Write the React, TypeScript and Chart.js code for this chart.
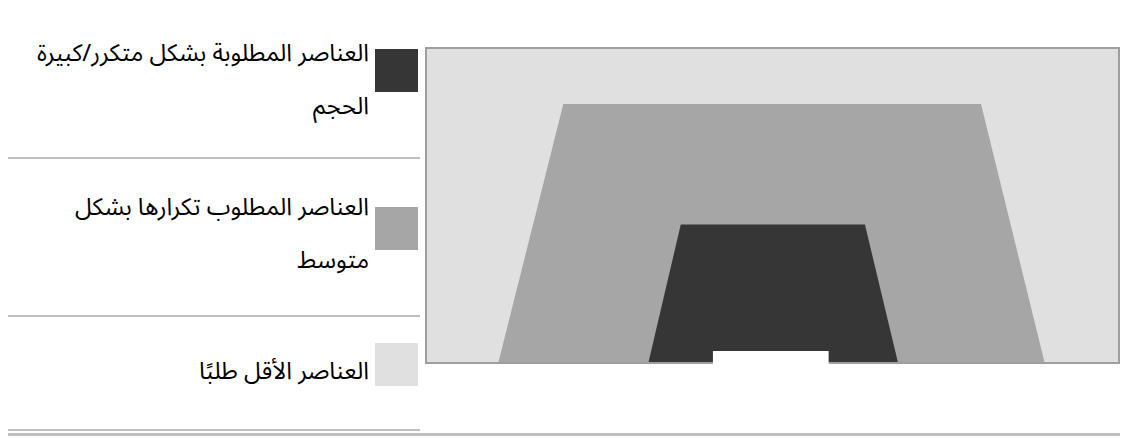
import React, { useEffect, useRef } from "react";
import { Chart, registerables } from "chart.js";

Chart.register(...registerables);

// Legend categories (each entry split into its display lines)
const categories: string[][] = [
  ["العناصر المطلوبة بشكل متكرر/كبيرة", "الحجم"],
  ["العناصر المطلوب تكرارها بشكل", "متوسط"],
  ["العناصر الأقل طلبًا"],
];
const colors = ["#363636", "#a6a6a6", "#e0e0e0"];

// Shapes (x in % of width, y in % of height)
const lightX = [0, 100];
const lightY = [100, 100];
const mediumX = [10.5, 19.9, 80, 89.2];
const mediumY = [0, 82, 82, 0];
const darkX = [32.1, 36.8, 63.3, 68.1];
const darkY = [0, 44, 44, 0];
const notchX = [41.4, 41.4, 58.1, 58.1];
const notchY = [0, 4.1, 4.1, 0];

const pts = (xs: number[], ys: number[]) => xs.map((x, i) => ({ x, y: ys[i] }));

const borderPlugin = {
  id: "boxBorder",
  afterDatasetDraw(chart: any, args: any) {
    if (args.meta.label !== "dark") return;
    const { ctx, chartArea } = chart;
    ctx.save();
    ctx.strokeStyle = "#9e9e9e";
    ctx.lineWidth = 2;
    ctx.strokeRect(chartArea.left + 1, chartArea.top + 1, chartArea.right - chartArea.left - 2, chartArea.bottom - chartArea.top - 2);
    ctx.restore();
  },
};

function Pyramid() {
  const ref = useRef<HTMLCanvasElement>(null);
  useEffect(() => {
    if (!ref.current) return;
    const mk = (label: string, data: any, color: string, order: number) => ({
      label,
      data,
      backgroundColor: color,
      borderWidth: 0,
      borderColor: color,
      pointRadius: 0,
      tension: 0,
      fill: "origin",
      order,
    });
    const chart = new Chart(ref.current, {
      type: "line",
      data: {
        datasets: [
          mk("light", pts(lightX, lightY), colors[2], 4),
          mk("medium", pts(mediumX, mediumY), colors[1], 3),
          mk("dark", pts(darkX, darkY), colors[0], 2),
          mk("notch", pts(notchX, notchY), "#ffffff", 1),
        ] as any,
      },
      options: {
        animation: false,
        responsive: true,
        maintainAspectRatio: false,
        layout: { padding: { left: 10, right: 5, top: 10, bottom: 10 } },
        plugins: { legend: { display: false }, tooltip: { enabled: false } },
        events: [],
        scales: {
          x: { type: "linear", min: 0, max: 100, display: false },
          y: { type: "linear", min: 0, max: 100, display: false },
        },
      },
      plugins: [borderPlugin],
    });
    return () => chart.destroy();
  }, []);
  return <canvas ref={ref} />;
}

export default function App() {
  const off = 8;
  const rows = [
    { swatchY: 49, textTop: 26.5, sepY: 157 },
    { swatchY: 207, textTop: 181, sepY: 315 },
    { swatchY: 343, textTop: 344.5, sepY: 429 },
  ];
  return (
    <div style={{ position: "relative", width: 1112, height: 428, fontFamily: "'Noto Sans Arabic', 'DejaVu Sans', sans-serif" }}>
      {categories.map((lines, i) => (
        <React.Fragment key={i}>
          <div
            style={{
              position: "absolute",
              right: 1112 - (369 - off),
              top: rows[i].textTop - off,
              direction: "rtl",
              textAlign: "right",
              fontSize: 24,
              lineHeight: "53px",
              color: "#000",
              whiteSpace: "nowrap",
            }}
          >
            {lines.map((l, j) => (
              <div key={j}>{l}</div>
            ))}
          </div>
          <div
            style={{
              position: "absolute",
              left: 375 - off,
              top: rows[i].swatchY - off,
              width: 43,
              height: 43,
              background: colors[i],
            }}
          />
          <div
            style={{
              position: "absolute",
              left: 7 - off,
              top: rows[i].sepY - off,
              width: 413,
              height: 2,
              background: "#c0c0c0",
            }}
          />
        </React.Fragment>
      ))}
      <div style={{ position: "absolute", left: 5 - off, top: 433 - off, width: 1121, height: 3, background: "#c0c0c0" }} />
      <div style={{ position: "absolute", left: 415 - off, top: 37 - off, width: 710, height: 337 }}>
        <Pyramid />
      </div>
    </div>
  );
}
